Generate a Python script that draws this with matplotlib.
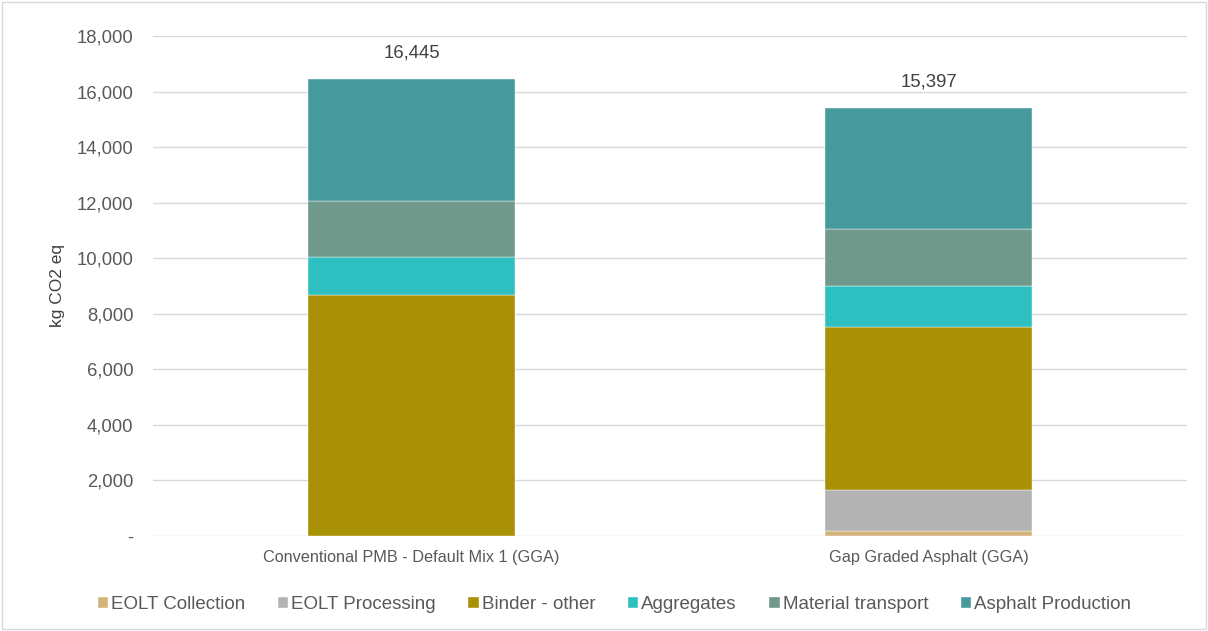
import numpy as np
import matplotlib.pyplot as plt
from matplotlib.patches import Rectangle
from matplotlib.ticker import FuncFormatter

plt.rcParams['font.family'] = ['Liberation Sans', 'DejaVu Sans']

categories = ['Conventional PMB - Default Mix 1 (GGA)', 'Gap Graded Asphalt (GGA)']
series = ['EOLT Collection', 'EOLT Processing', 'Binder - other', 'Aggregates',
          'Material transport', 'Asphalt Production']
eolt_collection = [0, 180]
eolt_processing = [0, 1476]
binder_other = [8665, 5857]
aggregates = [1379, 1487]
material_transport = [2027, 2041]
asphalt_production = [4374, 4356]
totals = [16445, 15397]

colors = ['#d4b37a', '#b3b3b3', '#a89105', '#2ebfc1', '#6f998a', '#469a9c']
values = [eolt_collection, eolt_processing, binder_other, aggregates,
          material_transport, asphalt_production]

fig = plt.figure(figsize=(12.08, 6.31), dpi=100)
ax = fig.add_axes([0.1267, 0.1506, 0.8563, 0.7924])

x = np.arange(len(categories))
bottom = np.zeros(len(categories))
for name, vals, c in zip(series, values, colors):
    ax.bar(x, vals, 0.4, bottom=bottom, color=c, label=name, zorder=3,
           edgecolor='white', linewidth=0.3)
    bottom += np.array(vals)

for xi, t in zip(x, totals):
    ax.annotate('{:,}'.format(t), (xi, t), xytext=(0, 13), textcoords='offset points',
                ha='center', va='bottom', fontsize=13.3, color='#404040')

ax.set_xlim(-0.5, 1.5)
ax.set_ylim(0, 18000)
ax.set_yticks(np.arange(0, 18001, 2000))
ax.yaxis.set_major_formatter(FuncFormatter(lambda v, p: '-' if v == 0 else '{:,.0f}'.format(v)))
ax.set_xticks(x)
ax.set_xticklabels(categories)
ax.grid(axis='y', color='#d9d9d9', linewidth=1, zorder=0)
for s in ax.spines.values():
    s.set_visible(False)
ax.tick_params(axis='both', length=0, labelcolor='#595959')
ax.tick_params(axis='y', pad=14, labelsize=13.3)
ax.tick_params(axis='x', pad=10, labelsize=11.7)
ax.set_ylabel('kg CO2 eq', fontsize=12.5, color='#404040')
ax.yaxis.set_label_coords(-0.085, 0.5)

ax.legend(loc='center', bbox_to_anchor=(0.446, -0.138), ncol=6, frameon=False,
          fontsize=13.5, handlelength=0.55, handleheight=0.55, handletextpad=0.15,
          columnspacing=1.75, labelcolor='#595959')

fig.patches.append(Rectangle((0.002, 0.003), 0.996, 0.994, transform=fig.transFigure,
                             fill=False, edgecolor='#d9d9d9', linewidth=1))

fig.savefig('out.png', dpi=100)
